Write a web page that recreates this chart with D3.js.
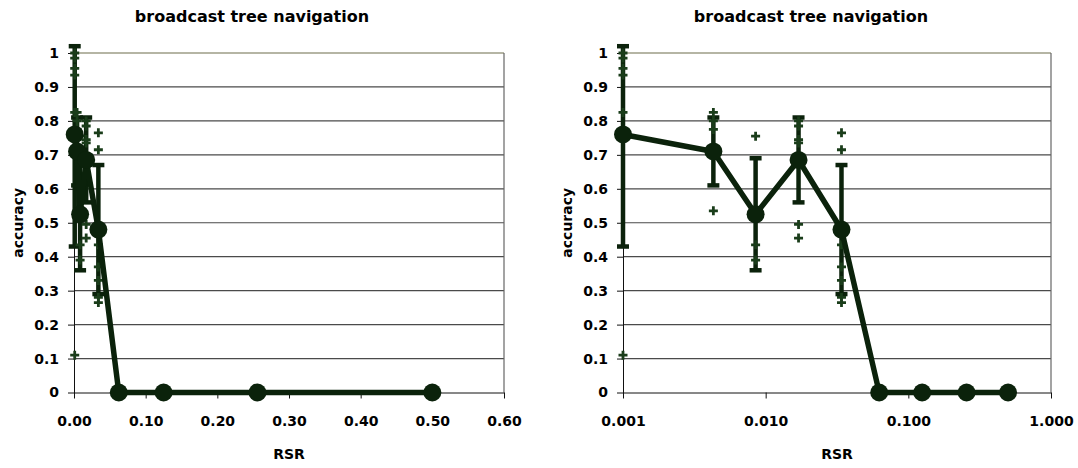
<!DOCTYPE html>
<html>
<head>
<meta charset="utf-8">
<script src="https://cdn.jsdelivr.net/npm/d3@7"></script>
<style>
    body { margin: 0; background: #fff; }
    svg { display: block; }
    text { font-family: "DejaVu Sans", Verdana, sans-serif; font-weight: bold; fill: #000; }
    .axis path, .axis line { stroke: #111; }
</style>
</head>
<body>
<svg id="chart" width="1078" height="468"></svg>
<script>
// RSR values and mean accuracy
const rsr = [0.001, 0.0043, 0.0085, 0.017, 0.034, 0.0625, 0.125, 0.256, 0.5];
const accuracy = [0.76, 0.71, 0.525, 0.685, 0.48, 0, 0, 0, 0];
// error bars (only for the first five points)
const errLow = [0.43, 0.61, 0.36, 0.56, 0.29];
const errHigh = [1.02, 0.81, 0.69, 0.81, 0.67];
// individual runs drawn as + marks
const runs = [
    [1.0, 0.985, 0.955, 0.935, 0.825, 0.11],
    [0.825, 0.80, 0.775, 0.535],
    [0.755, 0.435, 0.39],
    [0.80, 0.785, 0.745, 0.735, 0.495, 0.455],
    [0.765, 0.715, 0.435, 0.37, 0.33, 0.28, 0.265]
];
const yTicks = d3.range(0, 11).map(i => i / 10);
const linearTicks = [0, 0.1, 0.2, 0.3, 0.4, 0.5, 0.6];
const logTicks = [0.001, 0.01, 0.1, 1];
const chartTitle = 'broadcast tree navigation';

const ink = '#0b220b';
const svg = d3.select('#chart');

drawChart({ left: 74, right: 504, titleX: 252, log: false });
drawChart({ left: 623, right: 1051, titleX: 811, log: true });

function drawChart(opt) {
    const top = 53, bottom = 392.5;
    const g = svg.append('g');

    const x = opt.log
        ? d3.scaleLog().domain([0.001, 1]).range([opt.left, opt.right])
        : d3.scaleLinear().domain([0, 0.6]).range([opt.left, opt.right]);
    const y = d3.scaleLinear().domain([0, 1]).range([bottom, top]);

    // gridlines
    g.selectAll('.grid').data(yTicks.filter(d => d > 0)).enter().append('line')
        .attr('x1', opt.left).attr('x2', opt.right)
        .attr('y1', d => y(d)).attr('y2', d => y(d))
        .attr('stroke', d => d === 1 ? '#6d6d4a' : '#4a4a4a').attr('stroke-width', 1.2);
    g.append('line').attr('x1', opt.right).attr('x2', opt.right).attr('y1', top).attr('y2', bottom)
        .attr('stroke', '#666').attr('stroke-width', 1.2);

    // axes
    const yAxis = d3.axisLeft(y).tickValues(yTicks).tickFormat(d3.format('~g'))
        .tickSize(6).tickSizeOuter(0).tickPadding(9);
    g.append('g').attr('class', 'axis').attr('transform', `translate(${opt.left},0)`).call(yAxis)
        .call(a => a.selectAll('text').style('font-size', '14px'));

    const xAxis = d3.axisBottom(x)
        .tickValues(opt.log ? logTicks : linearTicks)
        .tickFormat(d3.format(opt.log ? '.3f' : '.2f'))
        .tickSize(6).tickSizeOuter(0).tickPadding(18);
    g.append('g').attr('class', 'axis').attr('transform', `translate(0,${bottom})`).call(xAxis)
        .call(a => a.selectAll('text').style('font-size', '14px'));

    // labels
    g.append('text').attr('x', opt.titleX).attr('y', 22).attr('text-anchor', 'middle')
        .style('font-size', '16px').text(chartTitle);
    g.append('text').attr('x', (opt.left + opt.right) / 2).attr('y', 459).attr('text-anchor', 'middle')
        .style('font-size', '14px').text('RSR');
    g.append('text').attr('transform', `translate(${opt.left - 51},${(top + bottom) / 2}) rotate(-90)`)
        .attr('text-anchor', 'middle').style('font-size', '14px').text('accuracy');

    // error bars
    const bars = errLow.map((lo, i) => ({ x: rsr[i], lo: lo, hi: errHigh[i] }));
    const eb = g.selectAll('.eb').data(bars).enter().append('g').attr('stroke', ink).attr('stroke-width', 4.5);
    eb.append('line').attr('x1', d => x(d.x)).attr('x2', d => x(d.x))
        .attr('y1', d => y(d.lo)).attr('y2', d => y(d.hi));
    eb.append('line').attr('x1', d => x(d.x) - 6).attr('x2', d => x(d.x) + 6)
        .attr('y1', d => y(d.lo)).attr('y2', d => y(d.lo));
    eb.append('line').attr('x1', d => x(d.x) - 6).attr('x2', d => x(d.x) + 6)
        .attr('y1', d => y(d.hi)).attr('y2', d => y(d.hi));

    // + marks for individual runs
    const pts = [];
    runs.forEach((r, i) => r.forEach(v => pts.push({ x: rsr[i], v: v })));
    g.selectAll('.plus').data(pts).enter().append('path')
        .attr('d', d => {
            const cx = x(d.x), cy = y(d.v);
            return `M${cx - 4.5},${cy}H${cx + 4.5}M${cx},${cy - 4.5}V${cy + 4.5}`;
        })
        .attr('stroke', '#1a3d1a').attr('stroke-width', 2.8);

    // mean line + markers
    const line = d3.line().x((d, i) => x(rsr[i])).y(d => y(d));
    g.append('path').datum(accuracy).attr('d', line)
        .attr('fill', 'none').attr('stroke', ink).attr('stroke-width', 5.5).attr('stroke-linejoin', 'round');
    g.selectAll('.dot').data(accuracy).enter().append('circle')
        .attr('cx', (d, i) => x(rsr[i])).attr('cy', d => y(d)).attr('r', 9)
        .attr('fill', ink);
}
</script>
</body>
</html>
